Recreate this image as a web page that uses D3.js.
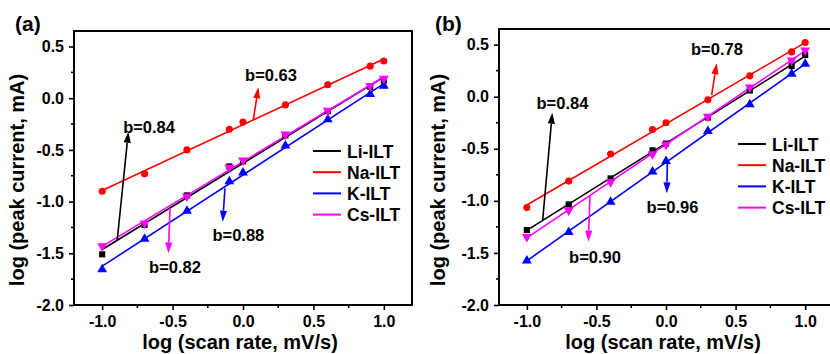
<!DOCTYPE html>
<html>
<head>
<meta charset="utf-8">
<script src="https://cdn.jsdelivr.net/npm/d3@7"></script>
<style>
  html, body { margin: 0; padding: 0; background: #fff; }
  svg { display: block; }
  text { font-family: "Liberation Sans", Arial, sans-serif; font-weight: bold; }
</style>
</head>
<body>
<svg id="chart" width="830" height="354"></svg>
<script>
// ---------- data ----------
const logScanRate = [-1, -0.699, -0.398, -0.097, 0, 0.301, 0.602, 0.903, 1];
const seriesNames = ["Li-ILT", "Na-ILT", "K-ILT", "Cs-ILT"];
const seriesColors = ["#000000", "#ff0000", "#0000ff", "#ff00ff"];

// panel (a)
const liA = [-1.51, -1.225, -0.94, -0.66, -0.61, -0.36, -0.125, 0.11, 0.17];
const naA = [-0.90, -0.73, -0.50, -0.30, -0.23, -0.065, 0.13, 0.31, 0.36];
const kA  = [-1.655, -1.36, -1.09, -0.805, -0.72, -0.46, -0.205, 0.04, 0.12];
const csA = [-1.43, -1.21, -0.95, -0.67, -0.60, -0.35, -0.12, 0.12, 0.19];

// panel (b)
const liB = [-1.28, -1.035, -0.785, -0.515, -0.45, -0.20, 0.06, 0.295, 0.40];
const naB = [-1.065, -0.81, -0.55, -0.315, -0.25, -0.03, 0.20, 0.43, 0.52];
const kB  = [-1.575, -1.30, -1.01, -0.72, -0.62, -0.33, -0.075, 0.22, 0.315];
const csB = [-1.345, -1.09, -0.82, -0.55, -0.46, -0.19, 0.09, 0.35, 0.445];

const xTicks = [-1.0, -0.5, 0.0, 0.5, 1.0];
const xMinor = [-0.75, -0.25, 0.25, 0.75];
const yTicks = [-2.0, -1.5, -1.0, -0.5, 0.0, 0.5];
const yMinor = [-1.75, -1.25, -0.75, -0.25, 0.25];

// annotations: label, series index, text centre, arrow start/end (data units)
const annA = [
  {label: "b=0.84", s: 0, tx: -0.667, ty: -0.278, x1: -0.893, y1: -1.371, x2: -0.814, y2: -0.324},
  {label: "b=0.63", s: 1, tx: 0.199, ty: 0.224, x1: 0.073, y1: -0.211, x2: 0.109, y2: 0.105},
  {label: "b=0.88", s: 2, tx: -0.033, ty: -1.323, x1: -0.128, y1: -0.871, x2: -0.144, y2: -1.194},
  {label: "b=0.82", s: 3, tx: -0.483, ty: -1.63, x1: -0.518, y1: -1.065, x2: -0.530, y2: -1.50}
];
const annB = [
  {label: "b=0.84", s: 0, tx: -0.744, ty: -0.063, x1: -0.886, y1: -1.184, x2: -0.817, y2: -0.154},
  {label: "b=0.78", s: 1, tx: 0.366, ty: 0.455, x1: 0.328, y1: 0.016, x2: 0.364, y2: 0.321},
  {label: "b=0.96", s: 2, tx: 0.047, ty: -1.056, x1: 0.010, y1: -0.624, x2: 0.006, y2: -0.928},
  {label: "b=0.90", s: 3, tx: -0.510, ty: -1.542, x1: -0.546, y1: -0.944, x2: -0.558, y2: -1.392}
];

const svg = d3.select("#chart");

const symbols = [
  d3.symbol().type(d3.symbolSquare).size(38),
  d3.symbol().type(d3.symbolCircle).size(40),
  d3.symbol().type(d3.symbolTriangle).size(42),
  d3.symbol().type(d3.symbolTriangle).size(42)
];

const fmt = d => d.toFixed(1);

function fit(xs, ys) {
  const mx = d3.mean(xs), my = d3.mean(ys);
  let num = 0, den = 0;
  xs.forEach((x, i) => { num += (x - mx) * (ys[i] - my); den += (x - mx) * (x - mx); });
  const b = num / den;
  return {b, a: my - b * mx};
}

function drawPanel(cfg) {
  const {left, right, top, bottom, series, ann, label, legendX, legendY, yTitleX} = cfg;
  const x = d3.scaleLinear().domain([-1.2, 1.2]).range([left, right]);
  const y = d3.scaleLinear().domain([-2, 0.65]).range([bottom, top]);
  const g = svg.append("g");

  const clipId = "clip" + label.replace(/\W/g, "");
  svg.append("clipPath").attr("id", clipId)
    .append("rect").attr("x", left).attr("y", top).attr("width", right - left).attr("height", bottom - top);

  const plot = g.append("g").attr("clip-path", `url(#${clipId})`);

  // fit lines and markers
  series.forEach((ys, i) => {
    const f = fit(logScanRate, ys);
    const x0 = d3.min(logScanRate), x1 = d3.max(logScanRate);
    plot.append("line")
      .attr("x1", x(x0)).attr("y1", y(f.a + f.b * x0))
      .attr("x2", x(x1)).attr("y2", y(f.a + f.b * x1))
      .attr("stroke", seriesColors[i]).attr("stroke-width", 1.6);
  });
  series.forEach((ys, i) => {
    plot.selectAll(null).data(logScanRate.map((v, k) => [v, ys[k]]))
      .enter().append("path")
      .attr("d", symbols[i])
      .attr("transform", d => `translate(${x(d[0])},${y(d[1])})` + (i === 3 ? " rotate(180)" : ""))
      .attr("fill", seriesColors[i]);
  });

  // annotations
  ann.forEach(a => {
    const c = seriesColors[a.s];
    const px1 = x(a.x1), py1 = y(a.y1), px2 = x(a.x2), py2 = y(a.y2);
    const ang = Math.atan2(py2 - py1, px2 - px1);
    const hl = 11, hw = 3.6;
    const bx = px2 - hl * Math.cos(ang), by = py2 - hl * Math.sin(ang);
    g.append("line").attr("x1", px1).attr("y1", py1).attr("x2", bx).attr("y2", by)
      .attr("stroke", c).attr("stroke-width", 1.6);
    const nx = -Math.sin(ang), ny = Math.cos(ang);
    g.append("path")
      .attr("d", `M${px2},${py2}L${bx + nx * hw},${by + ny * hw}L${bx - nx * hw},${by - ny * hw}Z`)
      .attr("fill", c);
    g.append("text").attr("x", x(a.tx)).attr("y", y(a.ty) + 6)
      .attr("text-anchor", "middle").attr("font-size", 16.5).attr("fill", "#000")
      .text(a.label);
  });

  // axes
  const xAxis = d3.axisBottom(x).tickValues(xTicks).tickFormat(fmt).tickSize(5).tickPadding(6);
  const gx = g.append("g").attr("transform", `translate(0,${bottom})`).call(xAxis);
  const yAxis = d3.axisLeft(y).tickValues(yTicks).tickFormat(fmt).tickSize(5).tickPadding(5);
  const gy = g.append("g").attr("transform", `translate(${left},0)`).call(yAxis);
  [gx, gy].forEach(ax => {
    ax.select(".domain").remove();
    ax.selectAll(".tick line").attr("stroke", "#000").attr("stroke-width", 1.6);
    ax.selectAll(".tick text").attr("font-size", 16).attr("fill", "#000")
      .attr("font-family", "'Liberation Sans', Arial, sans-serif").attr("font-weight", "bold");
  });
  // minor ticks
  g.selectAll(null).data(xMinor).enter().append("line")
    .attr("x1", d => x(d)).attr("x2", d => x(d)).attr("y1", bottom).attr("y2", bottom + 3)
    .attr("stroke", "#000").attr("stroke-width", 1.6);
  g.selectAll(null).data(yMinor).enter().append("line")
    .attr("y1", d => y(d)).attr("y2", d => y(d)).attr("x1", left).attr("x2", left - 3)
    .attr("stroke", "#000").attr("stroke-width", 1.6);

  // frame
  g.append("rect").attr("x", left).attr("y", top).attr("width", right - left).attr("height", bottom - top)
    .attr("fill", "none").attr("stroke", "#000").attr("stroke-width", 2);

  // axis titles
  g.append("text").attr("x", (left + right) / 2 - 3).attr("y", 349)
    .attr("text-anchor", "middle").attr("font-size", 20).text("log (scan rate, mV/s)");
  g.append("text").attr("transform", `translate(${yTitleX},${180}) rotate(-90)`)
    .attr("text-anchor", "middle").attr("font-size", 20).text("log (peak current, mA)");

  // panel label
  g.append("text").attr("x", cfg.labelX).attr("y", 31).attr("font-size", 21).text(label);

  // legend
  seriesNames.forEach((n, i) => {
    const ly = legendY + i * 21.2;
    g.append("line").attr("x1", legendX).attr("x2", legendX + 28).attr("y1", ly).attr("y2", ly)
      .attr("stroke", seriesColors[i]).attr("stroke-width", 2);
    g.append("text").attr("x", legendX + 34).attr("y", ly + 6.5).attr("font-size", 17.5).text(n);
  });
}

drawPanel({left: 74, right: 412, top: 31, bottom: 305,
  series: [liA, naA, kA, csA], ann: annA, label: "(a)", labelX: 15,
  legendX: 313, legendY: 151, yTitleX: 24});
drawPanel({left: 499, right: 833, top: 29, bottom: 305,
  series: [liB, naB, kB, csB], ann: annB, label: "(b)", labelX: 435,
  legendX: 738, legendY: 144, yTitleX: 445});
</script>
</body>
</html>
